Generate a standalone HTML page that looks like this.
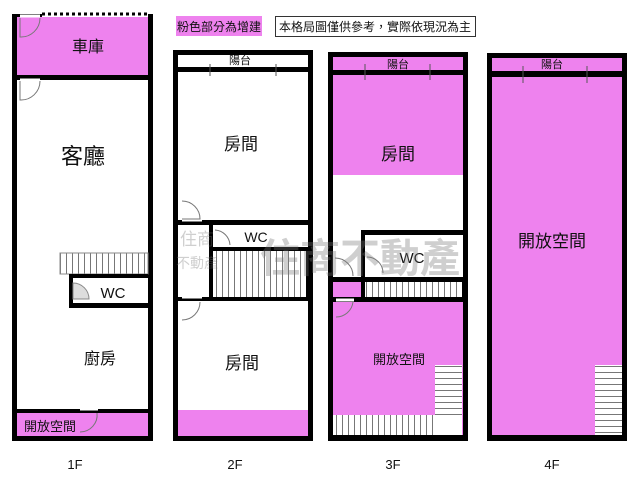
<!DOCTYPE html>
<html><head><meta charset="utf-8"><style>
html,body{margin:0;padding:0;background:#fff;}
svg{display:block;}
text{font-family:"Liberation Sans","Noto Sans CJK TC",sans-serif;fill:#111;}
</style></head><body>
<svg width="640" height="480" viewBox="0 0 640 480" xmlns="http://www.w3.org/2000/svg">
<defs>
<pattern id="sv" width="6" height="10" patternUnits="userSpaceOnUse"><rect width="6" height="10" fill="#fff"/><line x1="0.5" y1="0" x2="0.5" y2="10" stroke="#777" stroke-width="1"/></pattern>
<pattern id="sh" width="10" height="6" patternUnits="userSpaceOnUse"><rect width="10" height="6" fill="#fff"/><line x1="0" y1="0.5" x2="10" y2="0.5" stroke="#777" stroke-width="1"/></pattern>
</defs>
<g fill="#ee82ee">
<rect x="176" y="16" width="86" height="20"/>
</g>
<text x="219" y="31" font-size="12" text-anchor="middle">粉色部分為增建</text>
<rect x="275.5" y="16.5" width="200" height="20" fill="#fff" stroke="#333"/>
<text x="375" y="31" font-size="12" text-anchor="middle">本格局圖僅供參考，實際依現況為主</text>

<!-- 1F -->
<rect x="12" y="14" width="141" height="427" fill="#000"/>
<rect x="17" y="17" width="131" height="58" fill="#ee82ee"/>
<rect x="17" y="80" width="131" height="329" fill="#fff"/>
<rect x="17" y="413" width="131" height="23" fill="#ee82ee"/>
<rect x="42" y="10" width="106" height="7" fill="#fff"/>
<path d="M42 14 L148 14" stroke="#000" stroke-width="3" stroke-dasharray="3 3"/>
<rect x="60" y="253" width="88" height="21" fill="url(#sv)" stroke="#888"/>
<rect x="69" y="274" width="79" height="34" fill="#000"/>
<rect x="73" y="278" width="75" height="25" fill="#fff"/>
<path d="M73 283 A16 16 0 0 1 89 299 L73 299 Z" fill="#ddd" stroke="#888"/>
<path d="M20 16 h20 M20 80 h20" stroke="#fff" stroke-width="3"/>
<path d="M20 18 v19 A19 19 0 0 0 40 18" fill="none" stroke="#777"/>
<path d="M20 81 v19 A19 19 0 0 0 40 81" fill="none" stroke="#777"/>
<path d="M80 409 h18" stroke="#fff" stroke-width="3"/>
<path d="M80 432 A17 17 0 0 0 97 413" fill="none" stroke="#777"/>
<text x="88" y="52" font-size="16" text-anchor="middle">車庫</text>
<text x="83" y="164" font-size="22" text-anchor="middle">客廳</text>
<text x="113" y="298" font-size="15" text-anchor="middle">WC</text>
<text x="100" y="364" font-size="16" text-anchor="middle">廚房</text>
<text x="50" y="431" font-size="13" text-anchor="middle">開放空間</text>
<text x="75" y="469" font-size="13" text-anchor="middle">1F</text>

<!-- 2F -->
<rect x="173" y="50" width="140" height="391" fill="#000"/>
<rect x="178" y="55" width="130" height="12" fill="#fff"/>
<rect x="178" y="72" width="130" height="148" fill="#fff"/>
<rect x="178" y="225" width="31" height="72" fill="#fff"/>
<rect x="213" y="225" width="95" height="22" fill="#fff"/>
<rect x="213" y="251" width="93" height="46" fill="url(#sv)"/>
<rect x="178" y="301" width="130" height="109" fill="#fff"/>
<rect x="178" y="410" width="130" height="26" fill="#ee82ee"/>
<path d="M210 64 v12 M276 64 v12" stroke="#555"/>
<path d="M182 220 h20 M182 297 h20" stroke="#fff" stroke-width="3"/>
<path d="M182 201 A18 18 0 0 1 200 219 L182 219" fill="none" stroke="#777"/>
<path d="M182 320 A18 18 0 0 0 200 302" fill="none" stroke="#777"/>
<path d="M215 230 A16 16 0 0 1 230 245" fill="none" stroke="#777"/>
<text x="240" y="64" font-size="11" text-anchor="middle">陽台</text>
<text x="241" y="150" font-size="17" text-anchor="middle">房間</text>
<text x="256" y="242" font-size="14" text-anchor="middle">WC</text>
<text x="242" y="369" font-size="17" text-anchor="middle">房間</text>
<text x="235" y="469" font-size="13" text-anchor="middle">2F</text>

<!-- 3F -->
<rect x="328" y="52" width="140" height="389" fill="#000"/>
<rect x="333" y="57" width="130" height="13" fill="#ee82ee"/>
<rect x="333" y="75" width="130" height="100" fill="#ee82ee"/>
<rect x="333" y="175" width="130" height="55" fill="#fff"/>
<rect x="333" y="230" width="28" height="47" fill="#fff"/>
<rect x="365" y="235" width="98" height="42" fill="#fff"/>
<rect x="333" y="282" width="28" height="15" fill="#ee82ee"/>
<rect x="365" y="282" width="97" height="15" fill="url(#sv)"/>
<rect x="333" y="302" width="130" height="133" fill="#ee82ee"/>
<rect x="435" y="365" width="27" height="50" fill="url(#sh)"/>
<rect x="333" y="415" width="102" height="20" fill="url(#sv)"/>
<rect x="435" y="415" width="27" height="20" fill="#fff"/>
<path d="M365 64 v16 M430 64 v16" stroke="#555"/>
<path d="M336 300 h18" stroke="#fff" stroke-width="3"/>
<path d="M336 317 A17 17 0 0 0 353 302" fill="none" stroke="#777"/>
<path d="M335 258 A18 18 0 0 1 353 276 M367 257 A16 16 0 0 1 383 273" fill="none" stroke="#777"/>
<text x="398" y="68" font-size="11" text-anchor="middle">陽台</text>
<text x="398" y="160" font-size="17" text-anchor="middle">房間</text>
<text x="412" y="263" font-size="15" text-anchor="middle">WC</text>
<text x="399" y="364" font-size="13" text-anchor="middle">開放空間</text>
<text x="393" y="469" font-size="13" text-anchor="middle">3F</text>

<!-- 4F -->
<rect x="487" y="53" width="140" height="388" fill="#000"/>
<rect x="492" y="58" width="130" height="13" fill="#ee82ee"/>
<rect x="492" y="77" width="130" height="358" fill="#ee82ee"/>
<rect x="595" y="365" width="27" height="70" fill="url(#sh)"/>
<path d="M523 66 v17 M587 66 v17" stroke="#555"/>
<text x="552" y="68" font-size="11" text-anchor="middle">陽台</text>
<text x="552" y="247" font-size="17" text-anchor="middle">開放空間</text>
<text x="552" y="469" font-size="13" text-anchor="middle">4F</text>

<!-- watermark -->
<g opacity="0.35">
<text x="360" y="272" font-size="40" font-weight="bold" fill="#777" text-anchor="middle" style="fill:#777">住商不動產</text>
<text x="180" y="245" font-size="17" style="fill:#777">住商</text>
<text x="176" y="268" font-size="14" style="fill:#777">不動產</text>
</g>
</svg>
</body></html>
